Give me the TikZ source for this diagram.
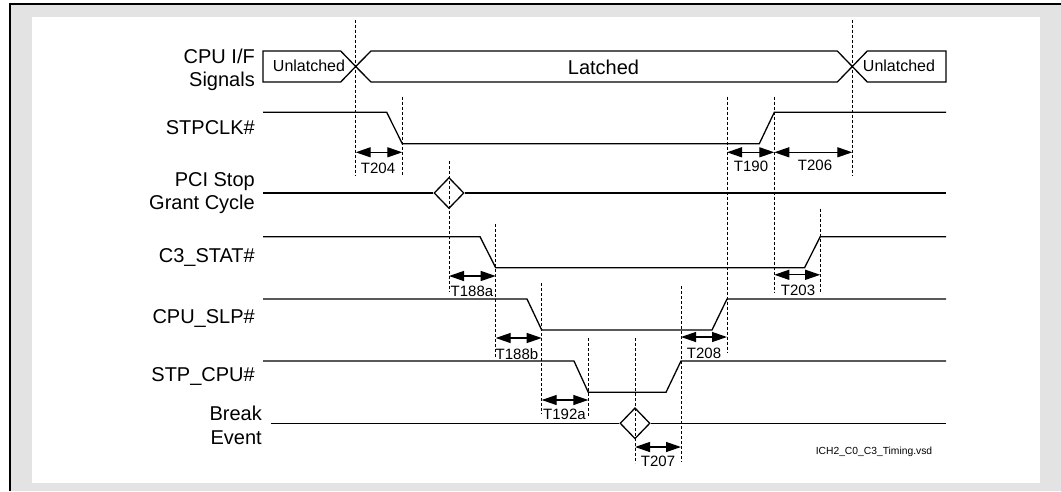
\documentclass[tikz,border=0pt]{standalone}
\usepackage{fontspec}
\setmainfont{Liberation Sans}
\usetikzlibrary{arrows.meta,shapes.geometric}
\definecolor{bggray}{RGB}{227,227,227}
\tikzset{
  sig/.style={line width=1.3pt, line join=miter},
  guide/.style={line width=0.9pt, dash pattern=on 3pt off 2pt},
  dimarrow/.style={line width=1.3pt, {Triangle[length=15pt,width=10pt]}-{Triangle[length=15pt,width=10pt]}},
  siglabel/.style={anchor=east, align=right, font=\fontsize{20}{23.5}\selectfont, inner sep=0pt},
  tlabel/.style={font=\fontsize{15}{18}\selectfont, inner sep=0pt},
  buslabel/.style={font=\fontsize{16}{19}\selectfont, inner sep=0pt},
  event/.style={diamond, draw, line width=1.3pt, minimum width=30pt, minimum height=31pt, inner sep=0pt, fill=white},
}
\begin{document}
\begin{tikzpicture}[x=1pt,y=-1pt]
\useasboundingbox (0,0) rectangle (1061,491);
% frame
\fill[bggray] (11,4) rectangle (1061,491);
\fill[white] (32,16.7) rectangle (1040,483.3);
\draw[line width=2pt] (10,491) -- (10,4.2) -- (1061,4.2);

% signal labels
\node[siglabel] (lcpuif) at (255,70) {CPU I/F\\Signals};
\node[siglabel] (lstpclk) at (255,128) {STPCLK\#};
\node[siglabel] (lpci) at (255,193) {PCI Stop\\Grant Cycle};
\node[siglabel] (lc3) at (255,257) {C3\_STAT\#};
\node[siglabel] (lslp) at (255,318) {CPU\_SLP\#};
\node[siglabel] (lstp) at (255,376) {STP\_CPU\#};
\node[siglabel] (lbrk) at (262,425.5) {Break\\Event};

% CPU I/F bus
\coordinate (x1) at (355.7,66.5);
\coordinate (x2) at (852.3,66.5);
\draw[sig] (263,51) -- (340.7,51) -- (x1) -- (340.7,82) -- (263,82) -- cycle;
\draw[sig] (371,51) -- (837.3,51) -- (x2) -- (837.3,82) -- (371,82) -- (x1) -- cycle;
\draw[sig] (867.3,51) -- (946,51) -- (946,82) -- (867.3,82) -- (x2) -- cycle;
\node[buslabel] (unl1) at (309,66) {Unlatched};
\node[font=\fontsize{20}{24}\selectfont, inner sep=0pt] (lat) at (603.5,67) {Latched};
\node[buslabel] (unl2) at (899,66) {Unlatched};

% STPCLK#
\draw[sig] (263,112.3) -- (386.7,112.3) -- (402.3,143.7) -- (759.3,143.7) -- (774.3,112.3) -- (946,112.3);

% PCI Stop Grant Cycle
\node[event] (pcid) at (449,193) {};
\draw[sig] (263,193) -- (pcid.west);
\draw[sig] (pcid.east) -- (946,193);

% C3_STAT#
\draw[sig] (263,236.7) -- (480,236.7) -- (495.7,267.7) -- (804.6,267.7) -- (820.2,236.7) -- (946,236.7);

% CPU_SLP#
\draw[sig] (263,299) -- (527,299) -- (541.7,330) -- (712,330) -- (727,299) -- (946,299);

% STP_CPU#
\draw[sig] (263,361) -- (574,361) -- (588.3,392.3) -- (666,392.3) -- (681,361) -- (946,361);

% Break Event
\node[event] (brkd) at (635,423.3) {};
\draw[sig] (270.6,423.3) -- (brkd.west);
\draw[sig] (brkd.east) -- (946,423.3);

% guide lines
\draw[guide] (355.7,19.6) -- (355.7,175);
\draw[guide] (402.3,96.7) -- (402.3,175);
\draw[guide] (449,161) -- (449,292);
\draw[guide] (495.7,224) -- (495.7,357);
\draw[guide] (541.7,283) -- (541.7,414);
\draw[guide] (588.3,338) -- (588.3,416.7);
\draw[guide] (635,338) -- (635,463);
\draw[guide] (681,286) -- (681,462);
\draw[guide] (727,96.7) -- (727,353);
\draw[guide] (774.3,96.7) -- (774.3,292.4);
\draw[guide] (820.2,208.7) -- (820.2,292.4);
\draw[guide] (852.3,19.6) -- (852.3,175);

% timing arrows
\coordinate (a204l) at (355.7,152.3); \coordinate (a204r) at (402.3,152.3);
\coordinate (a190l) at (727,152.3);   \coordinate (a190r) at (774.3,152.3);
\coordinate (a206l) at (774.3,152.3); \coordinate (a206r) at (852.3,152.3);
\coordinate (a188al) at (449,276);    \coordinate (a188ar) at (495.7,276);
\coordinate (a203l) at (774.3,274.8); \coordinate (a203r) at (820.2,274.8);
\coordinate (a188bl) at (495.7,338);  \coordinate (a188br) at (541.7,338);
\coordinate (a208l) at (681,337);     \coordinate (a208r) at (727,337);
\coordinate (a192l) at (541.7,400);   \coordinate (a192r) at (588.3,400);
\coordinate (a207l) at (635,447);     \coordinate (a207r) at (681,447);
\draw[dimarrow] (a204l) -- (a204r);
\draw[dimarrow] (a190l) -- (a190r);
\draw[dimarrow] (a206l) -- (a206r);
\draw[dimarrow] (a188al) -- (a188ar);
\draw[dimarrow] (a203l) -- (a203r);
\draw[dimarrow] (a188bl) -- (a188br);
\draw[dimarrow] (a208l) -- (a208r);
\draw[dimarrow] (a192l) -- (a192r);
\draw[dimarrow] (a207l) -- (a207r);

\node[tlabel] (t204) at (378,168) {T204};
\node[tlabel] (t190) at (751,166.5) {T190};
\node[tlabel] (t206) at (815,165) {T206};
\node[tlabel] (t188a) at (472,291) {T188a};
\node[tlabel] (t203) at (798,290.5) {T203};
\node[tlabel] (t188b) at (517,354) {T188b};
\node[tlabel] (t208) at (704,353) {T208};
\node[tlabel] (t192a) at (564.5,414.5) {T192a};
\node[tlabel] (t207) at (658,461) {T207};

\node[font=\fontsize{10.3}{12}\selectfont, inner sep=0pt] (fname) at (874,452) {ICH2\_C0\_C3\_Timing.vsd};
\end{tikzpicture}
\end{document}
